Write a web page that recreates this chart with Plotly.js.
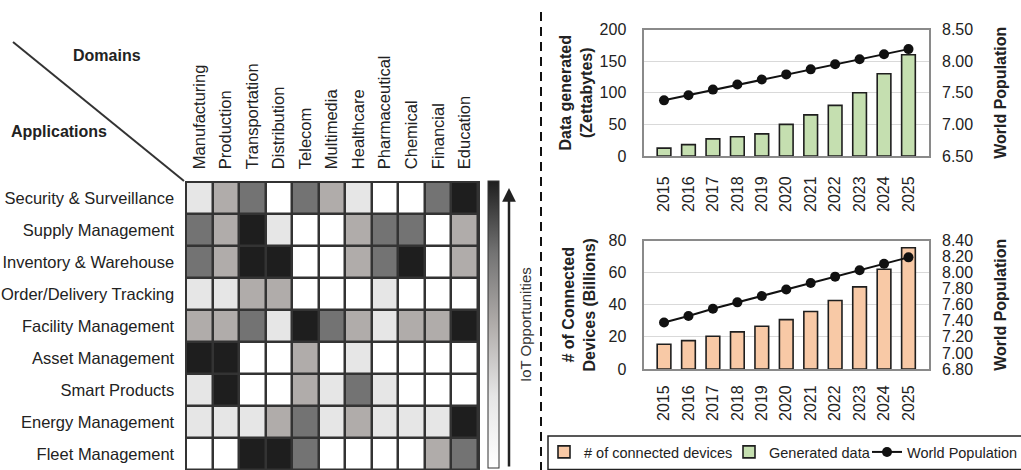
<!DOCTYPE html>
<html>
<head>
<meta charset="utf-8">
<script src="https://cdn.plot.ly/plotly-3.0.1.min.js"></script>
<style>html,body{margin:0;padding:0;background:#fff;}#chart{width:1021px;height:470px;}</style>
</head>
<body>
<div id="chart"></div>
<script>
// ---------- data ----------
const domains = ['Manufacturing','Production','Transportation','Distribution','Telecom','Multimedia','Healthcare','Pharmaceutical','Chemical','Financial','Education'];
const applications = ['Security & Surveillance','Supply Management','Inventory & Warehouse','Order/Delivery Tracking','Facility Management','Asset Management','Smart Products','Energy Management','Fleet Management'];
// IoT opportunity level 0 (none) .. 4 (highest)
const opportunity = [
  [1,2,3,0,3,2,1,0,0,3,4],
  [3,2,4,1,0,0,2,3,3,0,2],
  [3,2,4,4,0,0,2,3,4,0,2],
  [1,1,2,2,0,0,0,1,0,0,0],
  [2,2,3,1,4,3,2,1,2,2,4],
  [4,4,0,0,2,0,1,0,0,0,0],
  [1,4,0,0,2,1,3,1,0,0,0],
  [1,1,1,2,3,1,2,1,1,1,4],
  [0,0,4,4,3,0,0,0,0,2,3]
];
const years = ['2015','2016','2017','2018','2019','2020','2021','2022','2023','2024','2025'];
const generatedData = [12.5, 18, 27, 30.5, 35, 50, 65, 80, 100, 130, 160];           // Zettabytes
const connectedDevices = [15.41, 17.68, 20.35, 23.14, 26.66, 30.73, 35.82, 42.62, 51.11, 62.12, 75.44]; // Billions
const worldPopulation = [7.38, 7.46, 7.55, 7.63, 7.71, 7.79, 7.87, 7.95, 8.03, 8.11, 8.19];  // Billions

// ---------- helpers ----------
const W = 1021, H = 470;
const px = v => v / W;
const py = v => 1 - v / H;
const FONT = '"Liberation Sans", Arial, sans-serif';
const TXT = '#222';

const traces = [
  {
    type: 'heatmap', x: domains, y: applications, z: opportunity,
    xaxis: 'x', yaxis: 'y', zmin: 0, zmax: 4,
    colorscale: [[0,'#ffffff'],[0.25,'#e6e6e6'],[0.5,'#b0acaa'],[0.75,'#737373'],[1,'#1e1e1e']],
    xgap: 2.5, ygap: 2.5, showlegend: false, hoverinfo: 'skip',
    colorbar: {
      x: px(488), xanchor: 'left', xref: 'paper',
      y: py(324.5), yanchor: 'middle', yref: 'paper',
      len: 287 / H, lenmode: 'fraction', thickness: 11, thicknessmode: 'pixels',
      xpad: 0, ypad: 0, outlinewidth: 1, outlinecolor: '#333',
      showticklabels: false, ticks: ''
    }
  },
  {
    type: 'bar', x: years, y: connectedDevices, xaxis: 'x3', yaxis: 'y4',
    name: '# of connected devices', legend: 'legend', width: 0.56,
    marker: { color: '#f8c9a6', line: { color: '#1e1e1e', width: 1.6 } }
  },
  {
    type: 'bar', x: years, y: generatedData, xaxis: 'x2', yaxis: 'y2',
    name: 'Generated data', legend: 'legend2', width: 0.56,
    marker: { color: '#c5dfb0', line: { color: '#1e1e1e', width: 1.6 } }
  },
  {
    type: 'scatter', mode: 'lines+markers', x: years, y: worldPopulation, xaxis: 'x2', yaxis: 'y3',
    name: 'World Population', legend: 'legend3',
    line: { color: '#111', width: 2 }, marker: { color: '#111', size: 10 }
  },
  {
    type: 'scatter', mode: 'lines+markers', x: years, y: worldPopulation, xaxis: 'x3', yaxis: 'y5',
    name: 'World Population', showlegend: false,
    line: { color: '#111', width: 2 }, marker: { color: '#111', size: 10 }
  }
];

const tickFont = { family: FONT, size: 16, color: TXT };
const heatFont = { family: FONT, size: 16.5, color: TXT };
const titleFont = { family: FONT, size: 16, color: TXT };
const legendFont = { family: FONT, size: 14.5, color: TXT };

function barX(anchor, standoff) {
  return {
    domain: [px(643.5), px(929)], anchor: anchor, type: 'category',
    tickangle: -90, tickfont: tickFont, ticks: '', ticklabelstandoff: standoff,
    showline: true, mirror: true, linecolor: '#8a8a8a', linewidth: 2,
    showgrid: false, zeroline: false, fixedrange: true
  };
}
function legendAt(xPix) {
  return {
    orientation: 'h', x: px(xPix), xanchor: 'left', y: py(436), yanchor: 'top',
    borderwidth: 0, bgcolor: 'rgba(0,0,0,0)', font: legendFont
  };
}

const layout = {
  width: W, height: H,
  margin: { l: 0, r: 0, t: 0, b: 0, pad: 0, autoexpand: false },
  paper_bgcolor: '#fff', plot_bgcolor: '#fff',
  font: { family: FONT, color: TXT },
  showlegend: true,
  legend: legendAt(544),
  legend2: legendAt(729),
  legend3: legendAt(867),
  // heatmap axes
  xaxis: {
    domain: [px(186), px(478)], anchor: 'y', side: 'top',
    tickangle: -90, tickfont: heatFont, ticks: '', ticklabelstandoff: 8,
    showgrid: false, zeroline: false, showline: true, mirror: true,
    linecolor: '#333', linewidth: 1.5, fixedrange: true
  },
  yaxis: {
    domain: [0, py(182)], anchor: 'x', autorange: 'reversed',
    tickfont: heatFont, ticks: '', ticklabelstandoff: 7,
    showgrid: false, zeroline: false, showline: true, mirror: true,
    linecolor: '#333', linewidth: 1.5, fixedrange: true
  },
  // top bar chart
  xaxis2: barX('y2', 12),
  yaxis2: {
    domain: [py(156), py(29.5)], anchor: 'x2', range: [0, 200], dtick: 50,
    tickfont: tickFont, ticks: '', ticklabelstandoff: 12,
    showgrid: true, gridcolor: '#d9d9d9', gridwidth: 1, zeroline: false,
    showline: true, mirror: true, linecolor: '#8a8a8a', linewidth: 2,
    title: { text: '<b>Data generated<br>(Zettabytes)</b>', font: titleFont, standoff: 3 },
    fixedrange: true
  },
  yaxis3: {
    overlaying: 'y2', side: 'right', anchor: 'x2', range: [6.5, 8.5], dtick: 0.5, tickformat: '.2f',
    tickfont: tickFont, ticks: '', ticklabelstandoff: 12, showgrid: false, zeroline: false,
    title: { text: '<b>World Population</b>', font: titleFont, standoff: 22 },
    fixedrange: true
  },
  // bottom bar chart
  xaxis3: barX('y4', 8),
  yaxis4: {
    domain: [py(369), py(240.5)], anchor: 'x3', range: [0, 80], dtick: 20,
    tickfont: tickFont, ticks: '', ticklabelstandoff: 12,
    showgrid: true, gridcolor: '#d9d9d9', gridwidth: 1, zeroline: false,
    showline: true, mirror: true, linecolor: '#8a8a8a', linewidth: 2,
    title: { text: '<b># of Connected<br>Devices (Billions)</b>', font: titleFont, standoff: 9 },
    fixedrange: true
  },
  yaxis5: {
    overlaying: 'y4', side: 'right', anchor: 'x3', range: [6.8, 8.4], dtick: 0.2, tickformat: '.2f',
    tickfont: tickFont, ticks: '', ticklabelstandoff: 12, showgrid: false, zeroline: false,
    title: { text: '<b>World Population</b>', font: titleFont, standoff: 22 },
    fixedrange: true
  },
  shapes: [
    // dark grid behind heatmap cells
    { type: 'rect', xref: 'x domain', yref: 'y domain', x0: 0, x1: 1, y0: 0, y1: 1,
      fillcolor: '#333', line: { width: 0 }, layer: 'below' },
    // diagonal separator
    { type: 'line', xref: 'paper', yref: 'paper', x0: px(13), y0: py(42), x1: px(184), y1: py(181),
      line: { color: '#333', width: 2 } },
    // dashed vertical separator
    { type: 'line', xref: 'paper', yref: 'paper', x0: px(541), x1: px(541), y0: py(12), y1: 0,
      line: { color: '#111', width: 2, dash: '9px,6px' } },
    // legend frame
    { type: 'rect', xref: 'paper', yref: 'paper', x0: px(548), x1: px(1030), y0: py(436), y1: py(469.5),
      line: { color: '#222', width: 1.5 }, fillcolor: 'rgba(0,0,0,0)', layer: 'below' }
  ],
  annotations: [
    { xref: 'paper', yref: 'paper', x: px(107), y: py(55), text: '<b>Domains</b>', showarrow: false,
      font: { family: FONT, size: 16, color: TXT }, xanchor: 'center', yanchor: 'middle' },
    { xref: 'paper', yref: 'paper', x: px(59), y: py(132), text: '<b>Applications</b>', showarrow: false,
      font: { family: FONT, size: 16, color: TXT }, xanchor: 'center', yanchor: 'middle' },
    { xref: 'paper', yref: 'paper', x: px(525), y: py(325), text: 'IoT Opportunities', showarrow: false,
      textangle: -90, font: { family: FONT, size: 15, color: '#333' }, xanchor: 'center', yanchor: 'middle' },
    { xref: 'paper', yref: 'paper', x: px(509), y: py(188), text: '', showarrow: true,
      ax: 0, ay: 280, arrowhead: 2, arrowsize: 1.1, arrowwidth: 2.5, arrowcolor: '#222' }
  ]
};

Plotly.newPlot('chart', traces, layout, { staticPlot: true, displayModeBar: false });
</script>
</body>
</html>
